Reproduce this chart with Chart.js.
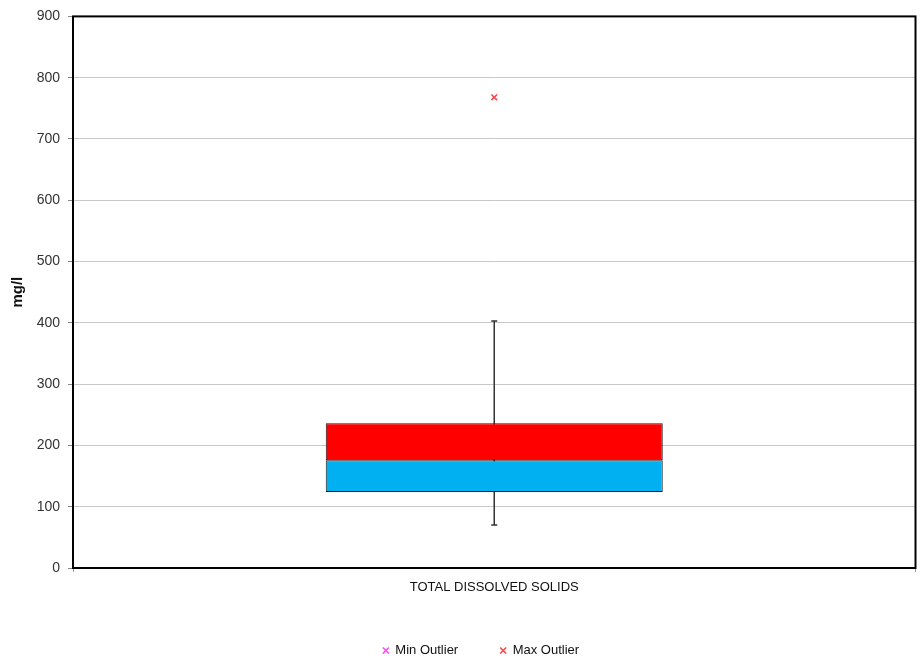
<!DOCTYPE html>
<html>
<head>
<meta charset="utf-8">
<script src="https://cdn.jsdelivr.net/npm/chart.js@4/dist/chart.umd.min.js"></script>
<style>
  html, body { margin: 0; padding: 0; background: #fff; }
  #wrap { width: 921px; height: 663px; }
</style>
</head>
<body>
<div id="wrap"><canvas id="boxChart"></canvas></div>
<script>
const categories = ['TOTAL DISSOLVED SOLIDS'];
const minValues = [70];
const q1Values = [124];
const medianValues = [176];
const q3Values = [236];
const maxValues = [403];
const minOutliers = [null];
const maxOutliers = [768];
const yTicks = [0, 100, 200, 300, 400, 500, 600, 700, 800, 900];

const FONT = "'Liberation Sans', Arial, sans-serif";

// whiskers behind the boxes, frame on top
const boxPlugin = {
  id: 'boxPlugin',
  afterLayout(chart) {
    // legend sits a bit right of the page centre in the original
    chart.legend.left += 23;
    chart.legend.right += 23;
  },
  beforeDatasetsDraw(chart) {
    const ctx = chart.ctx;
    const x = chart.scales.x;
    const y = chart.scales.y;
    ctx.save();
    ctx.strokeStyle = '#333';
    ctx.lineWidth = 1.5;
    categories.forEach((c, i) => {
      const cx = x.getPixelForValue(i);
      const top = y.getPixelForValue(maxValues[i]);
      const bot = y.getPixelForValue(minValues[i]);
      ctx.beginPath();
      ctx.moveTo(cx, top); ctx.lineTo(cx, bot);
      ctx.moveTo(cx - 3, top); ctx.lineTo(cx + 3, top);
      ctx.moveTo(cx - 3, bot); ctx.lineTo(cx + 3, bot);
      ctx.stroke();
    });
    ctx.restore();
  },
  afterDraw(chart) {
    const a = chart.chartArea;
    const ctx = chart.ctx;
    ctx.save();
    ctx.strokeStyle = '#000';
    ctx.lineWidth = 2;
    ctx.strokeRect(a.left, a.top, a.right - a.left, a.bottom - a.top);
    ctx.restore();
  }
};

let config = {
  type: 'bar',
  data: {
    labels: categories,
    datasets: [
      {
        label: 'Q1-Median',
        data: q1Values.map((v, i) => [v, medianValues[i]]),
        backgroundColor: '#00b0f0',
        borderColor: '#1a1a1a',
        borderWidth: 1,
        borderSkipped: false,
        grouped: false,
        barPercentage: 0.4,
        categoryPercentage: 1,
      },
      {
        label: 'Median-Q3',
        data: medianValues.map((v, i) => [v, q3Values[i]]),
        backgroundColor: '#ff0000',
        borderColor: '#1a1a1a',
        borderWidth: 1,
        borderSkipped: false,
        grouped: false,
        barPercentage: 0.4,
        categoryPercentage: 1,
      },
      {
        type: 'line',
        label: 'Min Outlier',
        data: minOutliers,
        showLine: false,
        pointStyle: 'crossRot',
        pointRadius: 4,
        borderWidth: 1.5,
        borderColor: '#ff40ff',
        backgroundColor: '#ff40ff',
      },
      {
        type: 'line',
        label: 'Max Outlier',
        data: maxOutliers,
        showLine: false,
        pointStyle: 'crossRot',
        pointRadius: 4,
        borderWidth: 1.5,
        borderColor: '#ff4040',
        backgroundColor: '#ff4040',
      },
    ],
  },
  options: {
    responsive: true,
    maintainAspectRatio: false,
    animation: false,
    layout: { padding: { top: 16, right: 5, left: 0, bottom: -4 } },
    scales: {
      x: {
        offset: true,
        grid: { display: true, drawOnChartArea: false, offset: true, tickLength: 4, color: '#999' },
        border: { display: false },
        ticks: { color: '#111', font: { family: FONT, size: 13 }, padding: 8 },
        afterFit(s) { s.height = 34; },
      },
      y: {
        min: 0,
        max: 900,
        afterBuildTicks(s) { s.ticks = yTicks.map(v => ({ value: v })); },
        grid: { color: '#c8c8c8', tickColor: '#888', tickLength: 5 },
        border: { display: false },
        ticks: { color: '#333', font: { family: FONT, size: 14 }, padding: 8 },
        title: { display: true, text: 'mg/l', color: '#111', font: { family: FONT, size: 15, weight: 'bold' }, padding: { top: 9, bottom: 0 } },
        afterFit(s) { s.width = 73; },
      },
    },
    plugins: {
      legend: {
        position: 'bottom',
        labels: {
          filter: (item) => item.text.indexOf('Outlier') >= 0,
          usePointStyle: true,
          pointStyle: 'crossRot',
          boxWidth: 6,
          boxHeight: 6,
          color: '#111',
          font: { family: FONT, size: 13 },
          padding: 42,
        },
      },
      tooltip: { enabled: false },
    },
  },
  plugins: [boxPlugin],
};

let ctx = document.getElementById('boxChart').getContext('2d');
window.myBox = new Chart(ctx, config);
</script>
</body>
</html>
